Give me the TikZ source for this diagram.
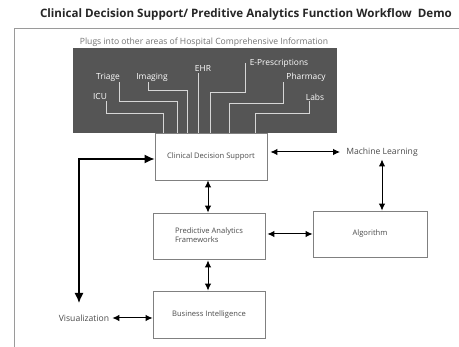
\documentclass[tikz,border=0pt]{standalone}
\usepackage{fontspec}
\setmainfont{Open Sans}
\usepackage{xcolor}
\usetikzlibrary{arrows.meta, positioning}
\definecolor{hisgray}{HTML}{555555}
\definecolor{plugline}{HTML}{D6D6D6}
\definecolor{boxline}{HTML}{808080}
\definecolor{txtgray}{HTML}{4A4A4A}
\definecolor{framegray}{HTML}{9A9A9A}

\begin{document}
\begin{tikzpicture}[x=1pt, y=-1pt,
    flowbox/.style={draw=boxline, line width=0.8pt, minimum width=112pt, minimum height=47pt, inner sep=0pt, text=txtgray, font=\fontsize{7.6}{9}\selectfont},
    plugtext/.style={text=white, font=\fontsize{8.4}{9}\selectfont, inner sep=1pt},
    plug/.style={draw=plugline, line width=0.6pt},
    link/.style={line width=1pt, {Latex[length=7pt,width=6.5pt]}-{Latex[length=7pt,width=6.5pt]}}]
    \useasboundingbox (0,0) rectangle (459,347);
    % title and frame
    \node[font=\bfseries\fontsize{11.6}{13}\selectfont, text=black!85] (title) at (246,14) {Clinical Decision Support/ Preditive Analytics Function Workflow\ \ Demo};
    \draw[framegray, line width=0.8pt] (459,28) -- (14,28) -- (14,347);
    % hospital information areas
    \node[font=\fontsize{8.6}{9}\selectfont, text=black!55] (plugs) at (204,42) {Plugs into other areas of Hospital Comprehensive Information};
    \node[fill=hisgray, minimum width=264pt, minimum height=85pt, inner sep=0pt] (his) at (205,90.5) {};
    \node[plugtext] (icu) at (100,97) {ICU};
    \node[plugtext] (triage) at (108,77) {Triage};
    \node[plugtext] (imaging) at (152,77) {Imaging};
    \node[plugtext] (ehr) at (203,69) {EHR};
    \node[plugtext] (eprx) at (279,63) {E-Prescriptions};
    \node[plugtext] (pharm) at (306,77) {Pharmacy};
    \node[plugtext] (labs) at (315,97) {Labs};
    \foreach \n/\x in {icu/163, triage/177, imaging/187, ehr/198, eprx/210, pharm/229, labs/255}
        \coordinate (\n-in) at (\x,133);
    \draw[plug] ([xshift=-2pt]icu.south east) -- ++(0,12) -| (icu-in);
    \draw[plug] ([xshift=-2pt]triage.south east) -- ++(0,19) -| (triage-in);
    \draw[plug] ([xshift=-4pt]imaging.south) -- ++(0,8) -| (imaging-in);
    \draw[plug] ([xshift=-5pt]ehr.south) -- (ehr-in);
    \draw[plug] ([xshift=-3pt]eprx.west) -- ++(0,29) -| (eprx-in);
    \draw[plug] ([xshift=-23pt]pharm.south) -- ++(0,21) -| (pharm-in);
    \draw[plug] ([xshift=-6pt]labs.south) -- ++(0,12) -| (labs-in);
    % workflow
    \node[flowbox] (cds) at (211,156.5) {Clinical Decision Support};
    \node[flowbox, minimum height=46pt] (paf) at (209,236) {\begin{tabular}{@{}l@{}}Predictive Analytics\\Frameworks\end{tabular}};
    \node[flowbox] (bi) at (209,314.5) {Business Intelligence};
    \node[flowbox, minimum width=114pt, minimum height=46pt] (algo) at (370,234) {Algorithm};
    \node[font=\fontsize{8.6}{9}\selectfont, text=txtgray, inner sep=2pt] (ml) at (382,152) {Machine Learning};
    \node[font=\fontsize{8.6}{9}\selectfont, text=txtgray, inner sep=2pt] (vis) at (84,318) {Visualization};
    \draw[link] ([xshift=3pt]cds.east |- ml.west) -- ([xshift=-4pt]ml.west);
    \draw[link] ([yshift=-1pt]ml.south) -- (ml.south |- algo.north);
    \draw[link] ([xshift=-3pt]cds.south) -- ([xshift=-1pt]paf.north);
    \draw[link] ([xshift=2pt]paf.east |- algo.west) -- (algo.west);
    \draw[link] ([xshift=-1pt,yshift=-1pt]paf.south) -- ([xshift=-1pt]bi.north);
    \draw[link] ([xshift=1pt]vis.east) -- (vis.east -| bi.west);
    \coordinate (viscorner) at (79,159);
    \draw[line width=1.3pt, {Latex[length=10pt,width=9pt]}-{Latex[length=10pt,width=9pt]}] (79,303) -- (viscorner) -- (viscorner -| cds.west);
\end{tikzpicture}
\end{document}
